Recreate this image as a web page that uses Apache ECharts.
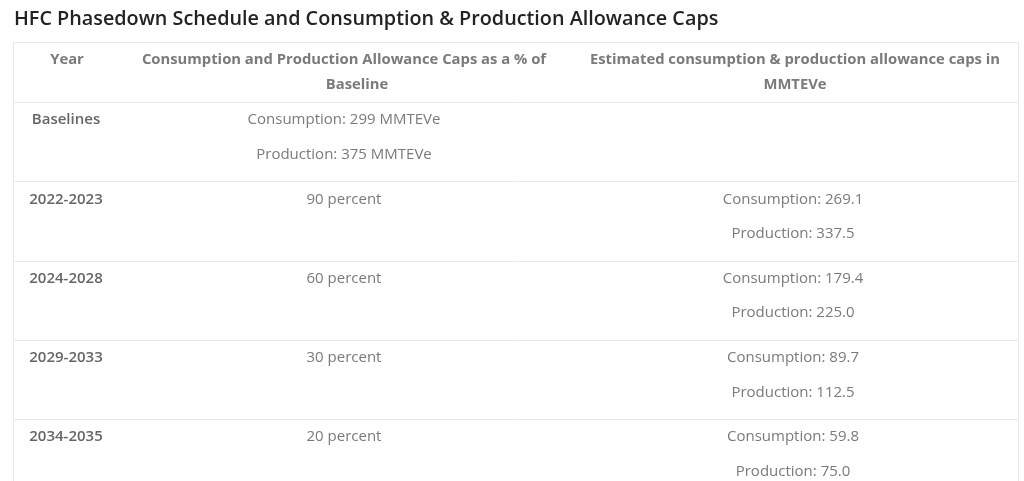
<!DOCTYPE html>
<html>
<head>
<meta charset="utf-8">
<script src="https://cdn.jsdelivr.net/npm/echarts@6/dist/echarts.min.js"></script>
<style>
  html, body { margin: 0; padding: 0; background: #fff; }
  #chart { width: 1024px; height: 481px; }
</style>
</head>
<body>
<div id="chart"></div>
<script>
// table content
const title = 'HFC Phasedown Schedule and Consumption & Production Allowance Caps';
const headers = [
  ['Year'],
  ['Consumption and Production Allowance Caps as a % of', 'Baseline'],
  ['Estimated consumption & production allowance caps in', 'MMTEVe']
];
const years = ['Baselines', '2022-2023', '2024-2028', '2029-2033', '2034-2035'];
const baselineConsumption = 299;
const baselineProduction = 375;
const capPercent = [90, 60, 30, 20];
const capConsumption = ['269.1', '179.4', '89.7', '59.8'];
const capProduction = ['337.5', '225.0', '112.5', '75.0'];

// layout
const FONT = '"Open Sans", "Noto Sans", sans-serif';
const tableLeft = 13, tableRight = 1018, tableTop = 42;
const headerBottom = 102;
const rowH = 79.3;
const lineGap = 34.5;
const colCenters = [66, 344, 793];
// header line centres (first line, second line)
const headCenters = [[67], [344, 357], [795, 795]];
const border = '#e9e9e9';

const chart = echarts.init(document.getElementById('chart'));
const els = [];

function text(x, y, s, opt) {
  els.push({
    type: 'text',
    style: Object.assign({
      x: x, y: y, text: s,
      fontFamily: FONT, fontSize: 15, fill: '#7a7a7a',
      textAlign: 'center', textVerticalAlign: 'middle'
    }, opt || {})
  });
}
function hline(y) {
  els.push({ type: 'line', shape: { x1: tableLeft, y1: y, x2: tableRight, y2: y },
    style: { stroke: border, lineWidth: 1 } });
}

// title
text(14, 19, title, { textAlign: 'left', fontSize: 19.8, fontWeight: 600, fill: '#222' });

// outer border
els.push({ type: 'rect', shape: { x: tableLeft + 0.5, y: tableTop + 0.5, width: tableRight - tableLeft, height: 500 },
  style: { fill: 'none', stroke: border, lineWidth: 1 } });

// header
headers.forEach(function (lines, i) {
  lines.forEach(function (s, j) {
    text(headCenters[i][j], 60 + j * 25, s, { fontWeight: 'bold', fill: '#7a7a7a', fontSize: 14.8 });
  });
});
hline(headerBottom + 0.5);

// rows
years.forEach(function (y, r) {
  const top = headerBottom + r * rowH;
  const y1 = top + 18, y2 = y1 + lineGap;
  text(colCenters[0], y1, y, { fontWeight: 600, fill: '#666' });
  if (r === 0) {
    text(colCenters[1], y1, 'Consumption: ' + baselineConsumption + ' MMTEVe');
    text(colCenters[1], y2, 'Production: ' + baselineProduction + ' MMTEVe');
  } else {
    text(colCenters[1], y1, capPercent[r - 1] + ' percent');
    text(colCenters[2], y1, 'Consumption: ' + capConsumption[r - 1]);
    text(colCenters[2], y2, 'Production: ' + capProduction[r - 1]);
  }
  if (r > 0) hline(Math.round(top) + 0.5);
});

chart.setOption({
  backgroundColor: '#fff',
  animation: false,
  graphic: { elements: els }
});
</script>
</body>
</html>
